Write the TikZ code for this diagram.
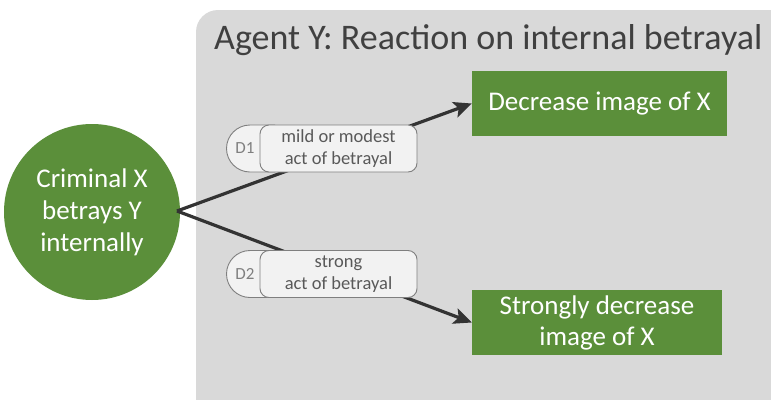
\documentclass[tikz,border=0pt]{standalone}
\usepackage{fontspec}
\setmainfont{Carlito}
\usetikzlibrary{arrows.meta}
\definecolor{panelgray}{HTML}{D9D9D9}
\definecolor{leafgreen}{HTML}{5B8F3A}
\definecolor{labelgray}{HTML}{595959}
\definecolor{tagfill}{HTML}{F2F2F2}
\definecolor{tagline}{HTML}{7F7F7F}
\definecolor{flowline}{HTML}{333333}
\tikzset{
  greenbox/.style={fill=leafgreen, text=white, minimum width=255pt, minimum height=65pt,
    inner sep=0pt, font=\fontsize{27}{31}\selectfont, align=center},
  tagtext/.style={draw=tagline, fill=tagfill, rounded corners=9pt, line width=0.9pt,
    minimum width=157pt, minimum height=47pt, inner sep=0pt, text=labelgray,
    font=\fontsize{18.5}{22}\selectfont, align=center},
  tagcap/.style={draw=tagline, fill=tagfill, line width=0.9pt},
  flow/.style={line width=3.2pt, draw=flowline},
  flowarrow/.style={flow, -{Stealth[length=18pt,width=16pt,inset=4pt]}}
}
\begin{document}
\begin{tikzpicture}[x=1pt,y=-1pt]
\useasboundingbox (0,0) rectangle (771,399);
\begin{scope}
\clip (0,0) rectangle (771,399);
% agent panel
\fill[panelgray, rounded corners=22pt] (196,10) rectangle (800,430);
\end{scope}
\node[anchor=west, text=black!75, font=\fontsize{36}{40}\selectfont, inner sep=0pt] (title) at (214,40) {Agent Y: Reaction on internal betrayal};

% start event
\node[circle, fill=leafgreen, minimum size=176pt, inner sep=0pt, text=white,
  font=\fontsize{27}{32}\selectfont, align=center] (crime) at (92,212) {Criminal X\\betrays Y\\internally};
\coordinate (fork) at (177,211);

% reactions
\node[greenbox] (dec) at (599.5,103.5) {Decrease image of X};
\node[greenbox, minimum width=250pt] (strong) at (597,322.5) {Strongly decrease\\image of X};

% connectors
\draw[flowarrow] (fork) -- (dec.west);
\draw[flowarrow] (fork) -- (strong.west);

% condition tags
\foreach \nm/\yc/\lab/\txt in {d1/148.5/D1/{mild or modest\\act of betrayal}, d2/274/D2/{strong\\act of betrayal}}{
  \filldraw[tagcap] (275,\yc-23.5) -- (250,\yc-23.5) arc[start angle=-90, end angle=-270, radius=23.5] -- (275,\yc+23.5);
  \node[text=tagline, font=\fontsize{17}{20}\selectfont, inner sep=0pt] (\nm cap) at (245,\yc) {\lab};
  \node[tagtext] (\nm) at (338.5,\yc) {\txt};
}
\end{tikzpicture}
\end{document}
